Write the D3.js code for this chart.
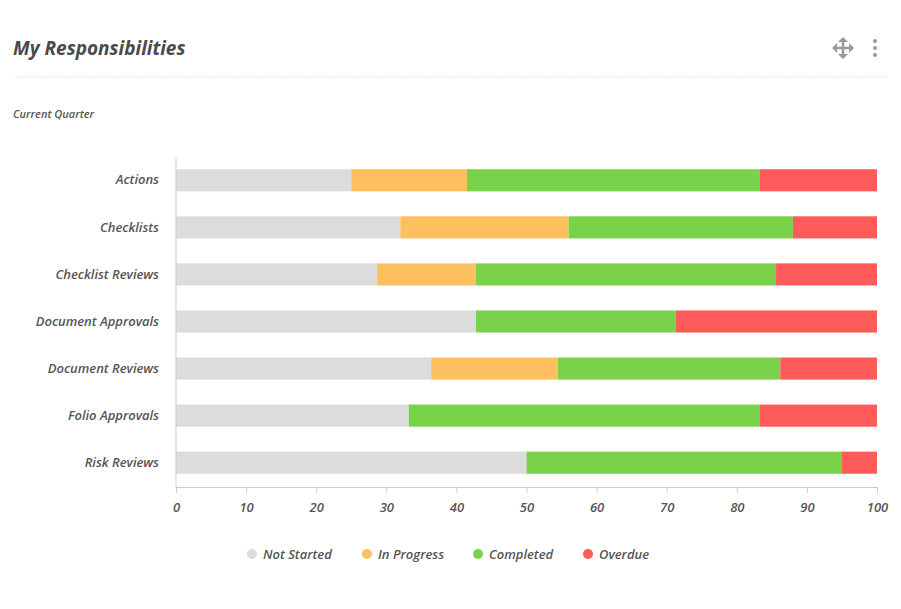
<!DOCTYPE html>
<html><head><meta charset="utf-8">
<script src="https://cdn.jsdelivr.net/npm/d3@7"></script>
<style>
body{margin:0;background:#fff;font-family:"Open Sans",sans-serif;}
text{font-family:"Open Sans",sans-serif;font-style:italic;}
</style></head><body>
<svg id="chart" width="901" height="609"></svg>
<script>
var categories = ["Actions","Checklists","Checklist Reviews","Document Approvals","Document Reviews","Folio Approvals","Risk Reviews"];
var seriesNames = ["Not Started","In Progress","Completed","Overdue"];
var colors = ["#dcdcdc","#fec05e","#7ad14a","#ff5b5b"];
var notStarted = [25.0, 32.0, 28.7, 42.8, 36.4, 33.2, 50.0];
var inProgress = [16.5, 24.0, 14.1, 0, 18.1, 0, 0];
var completed  = [41.8, 32.0, 42.8, 28.5, 31.7, 50.1, 45.0];
var overdue    = [16.7, 12.0, 14.4, 28.7, 13.8, 16.7, 5.0];
var ticks = [0,10,20,30,40,50,60,70,80,90,100];

var svg = d3.select("#chart");
svg.append("text").attr("x",13).attr("y",55).attr("font-size",19).attr("font-weight",700)
  .attr("fill","#4a4a4a").text("My Responsibilities");
svg.append("line").attr("x1",13).attr("x2",887).attr("y1",77).attr("y2",77)
  .attr("stroke","#e6e6e6").attr("stroke-dasharray","2,1");
svg.append("text").attr("x",13).attr("y",118).attr("font-size",11).attr("font-weight",600)
  .attr("fill","#555").text("Current Quarter");

// icons
var ic = svg.append("g").attr("fill","#9a9a9a").attr("stroke","#9a9a9a");
ic.append("path").attr("d","M843 38 L843 58 M833 48 L853 48").attr("stroke-width",2.5);
ic.append("path").attr("d","M838 42 L843 37 L848 42 Z M838 54 L843 59 L848 54 Z M837 43 L832 48 L837 53 Z M849 43 L854 48 L849 53 Z").attr("stroke","none");
[41,48,55].forEach(function(y){ ic.append("circle").attr("cx",875).attr("cy",y).attr("r",2).attr("stroke","none"); });

var x = d3.scaleLinear().domain([0,100]).range([176,877]);
var y = d3.scaleBand().domain(categories).range([157,486]).paddingInner(0.53).paddingOuter(0.26);

var data = categories.map(function(c,i){
  return {cat:c, "Not Started":notStarted[i], "In Progress":inProgress[i], "Completed":completed[i], "Overdue":overdue[i]};
});
var stacked = d3.stack().keys(seriesNames)(data);

svg.append("g").selectAll("g").data(stacked).join("g").attr("fill",function(d,i){return colors[i];})
  .selectAll("rect").data(function(d){return d;}).join("rect")
  .attr("x",function(d){return x(d[0]);})
  .attr("width",function(d){return x(d[1])-x(d[0]);})
  .attr("y",function(d){return y(d.data.cat);})
  .attr("height",y.bandwidth());

var xa = svg.append("g").attr("transform","translate(0,487)")
  .call(d3.axisBottom(x).tickValues(ticks).tickSize(6).tickPadding(10));
xa.select(".domain").attr("stroke","#ccc");
xa.selectAll(".tick line").attr("stroke","#ccc");
xa.selectAll("text").attr("font-size",13).attr("font-weight",600).attr("fill","#555").attr("font-style","italic");

var ya = svg.append("g").attr("transform","translate(176,0)")
  .call(d3.axisLeft(y).tickSize(0).tickPadding(17));
ya.select(".domain").attr("stroke","#ccc").attr("d","M0,157V487");
ya.selectAll("text").attr("font-size",13).attr("font-weight",600).attr("fill","#555").attr("font-style","italic");

var legX = [247,362,473,583];
var lg = svg.append("g").selectAll("g").data(seriesNames).join("g")
  .attr("transform",function(d,i){return "translate("+legX[i]+",554)";});
lg.append("circle").attr("r",5).attr("cx",5).attr("fill",function(d,i){return colors[i];});
lg.append("text").attr("x",16).attr("y",5).attr("font-size",13).attr("font-weight",600)
  .attr("fill","#555").text(function(d){return d;});
</script></body></html>
